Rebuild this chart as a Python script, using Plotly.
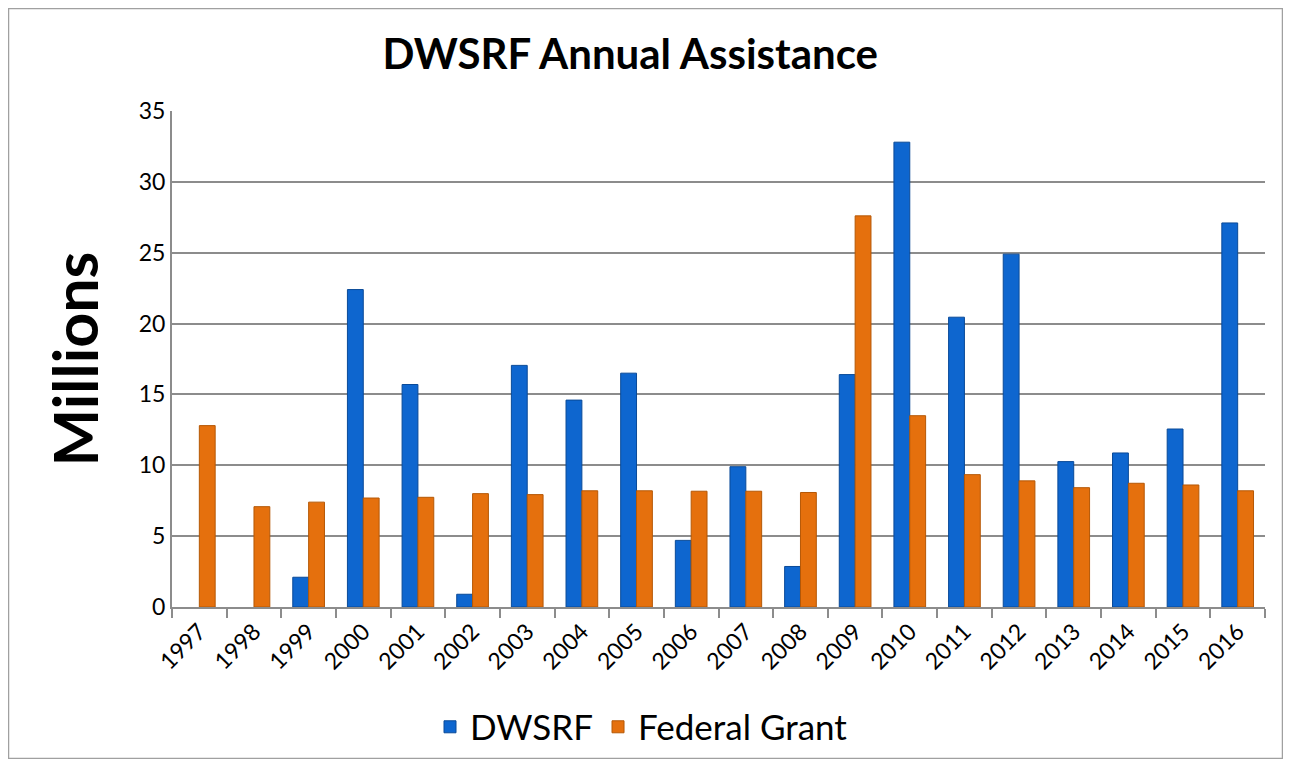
import plotly.graph_objects as go

years = [str(y) for y in range(1997, 2017)]
dwsrf = [None, None, 2.1, 22.4, 15.7, 0.9, 17.05, 14.6, 16.5, 4.7, 9.9, 2.86,
         16.4, 32.8, 20.45, 24.9, 10.26, 10.87, 12.56, 27.1]
federal = [12.8, 7.08, 7.4, 7.69, 7.74, 8.0, 7.93, 8.2, 8.2, 8.17, 8.17, 8.08,
           27.6, 13.5, 9.34, 8.9, 8.42, 8.73, 8.61, 8.2]
y_ticks = [0, 5, 10, 15, 20, 25, 30, 35]

# page body has an 8px margin; figure sized/placed to compensate
W, H = 1275, 751
L, R, T, B = 164, 18, 103, 152
FONT = "Lato, 'Open Sans', sans-serif"

fig = go.Figure()
fig.add_trace(go.Bar(
    x=years, y=dwsrf, name="DWSRF",
    marker=dict(color="#0e66cf", line=dict(color="#0a4a98", width=1)),
))
fig.add_trace(go.Bar(
    x=years, y=federal, name="Federal Grant",
    marker=dict(color="#e5700d", line=dict(color="#b55806", width=1)),
))

pw = W - L - R
ph = H - T - B
fig.add_shape(type="rect", xref="paper", yref="paper",
              x0=(0.5 - L) / pw, x1=(W - 0.5 - L) / pw,
              y0=(-B + 0.5) / ph, y1=(H - B - 0.5) / ph,
              line=dict(color="#a0a0a0", width=1.5), fillcolor="rgba(0,0,0,0)",
              layer="below")

fig.update_layout(
    width=W, height=H,
    margin=dict(l=L, r=R, t=T, b=B, autoexpand=False),
    paper_bgcolor="white", plot_bgcolor="white",
    barmode="group", bargap=0.42, bargroupgap=0.0,
    font=dict(family=FONT, color="black"),
    title=dict(text="<b>DWSRF Annual Assistance</b>", x=0.488, xanchor="center",
               y=1 - 46 / H, yanchor="middle", font=dict(size=42, family=FONT)),
    xaxis=dict(
        type="category", tickangle=-45, tickfont=dict(size=23),
        showline=True, linecolor="#8c8c8c", linewidth=2,
        ticks="outside", tickson="boundaries", ticklen=9, tickcolor="#8c8c8c", tickwidth=2,
        showgrid=False, mirror=False,
    ),
    yaxis=dict(
        range=[0, 35], tickvals=y_ticks, tickfont=dict(size=23),
        showline=True, linecolor="#8c8c8c", linewidth=2,
        showgrid=True, gridcolor="#8c8c8c", gridwidth=1.5,
        zeroline=False, ticks="",
        title=dict(text="<b>Millions</b>", font=dict(size=61, family=FONT), standoff=20),
    ),
    legend=dict(orientation="h", x=(430 - 8 - L) / pw, xanchor="left",
                y=-0.242, yanchor="middle",
                font=dict(size=35, family=FONT), itemwidth=30, traceorder="normal"),
    showlegend=True,
)

fig.write_html("out.html")
